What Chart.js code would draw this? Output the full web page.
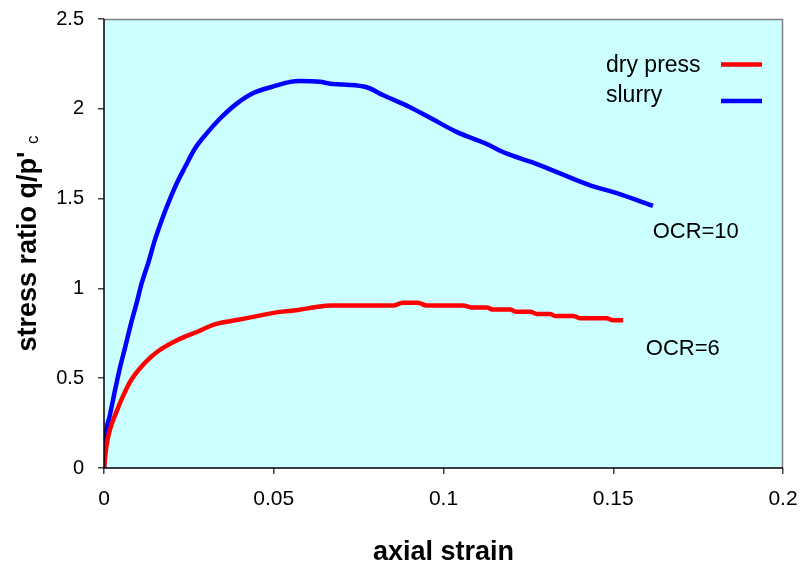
<!DOCTYPE html>
<html>
<head>
<meta charset="utf-8">
<script src="https://cdn.jsdelivr.net/npm/chart.js@4.4.1/dist/chart.umd.min.js"></script>
<style>
html,body{margin:0;padding:0;background:#fff;}
#wrap{width:801px;height:567px;}
</style>
</head>
<body>
<div id="wrap"><canvas id="c" width="801" height="567"></canvas></div>
<script>
// ---- data ----
const seriesNames = ["dry press", "slurry"];
const dryStrain = [0, 0.0007, 0.0017, 0.0036, 0.0056, 0.008, 0.012, 0.0159, 0.0218, 0.0277, 0.0326, 0.0395, 0.0454, 0.0512, 0.0571, 0.062, 0.0669, 0.0852, 0.088, 0.0925, 0.095, 0.1057, 0.1088, 0.1128, 0.1146, 0.1196, 0.1216, 0.1255, 0.1275, 0.1314, 0.1328, 0.1382, 0.1402, 0.148, 0.15, 0.1529];
const dryRatio = [0, 0.12, 0.21, 0.31, 0.40, 0.49, 0.585, 0.65, 0.714, 0.76, 0.80, 0.825, 0.847, 0.868, 0.88, 0.895, 0.905, 0.905, 0.92, 0.92, 0.905, 0.905, 0.893, 0.893, 0.882, 0.882, 0.87, 0.87, 0.858, 0.858, 0.847, 0.847, 0.834, 0.834, 0.823, 0.823];
const slurryStrain = [0, 0.0004, 0.0017, 0.0031, 0.0046, 0.0062, 0.0079, 0.0096, 0.0111, 0.0130, 0.0150, 0.0170, 0.0189, 0.0214, 0.0239, 0.0268, 0.0302, 0.0342, 0.0391, 0.044, 0.0509, 0.0548, 0.0577, 0.0636, 0.0666, 0.0705, 0.0774, 0.0823, 0.090, 0.097, 0.104, 0.112, 0.1187, 0.1264, 0.1343, 0.143, 0.151, 0.1617];
const slurryRatio = [0, 0.16, 0.29, 0.42, 0.55, 0.67, 0.80, 0.918, 1.029, 1.14, 1.27, 1.38, 1.473, 1.584, 1.677, 1.779, 1.862, 1.946, 2.029, 2.088, 2.13, 2.15, 2.155, 2.15, 2.14, 2.135, 2.12, 2.075, 2.01, 1.94, 1.87, 1.81, 1.75, 1.70, 1.64, 1.575, 1.53, 1.46];
const xTickLabels = ["0", "0.05", "0.1", "0.15", "0.2"];
const yTickLabels = ["0", "0.5", "1", "1.5", "2", "2.5"];
const curveLabels = ["OCR=6", "OCR=10"];
const curveLabelX = [0.1596, 0.1616];
const curveLabelY = [0.63, 1.28];
const xTitle = "axial strain";
const yTitle = "stress ratio q/p'";
const yTitleSub = "c";

const FONT = "'Liberation Sans', Arial, sans-serif";
const toPts = (xs, ys) => xs.map((x, i) => ({x: x, y: ys[i]}));

const decorPlugin = {
  id: 'decor',
  beforeDraw(chart) {
    const {ctx, chartArea: a} = chart;
    ctx.save();
    ctx.fillStyle = '#CCFFFF';
    ctx.fillRect(a.left, a.top, a.right - a.left, a.bottom - a.top);
    ctx.restore();
  },
  afterDraw(chart) {
    const {ctx, chartArea: a, scales} = chart;
    ctx.save();
    // top & right frame
    ctx.strokeStyle = '#808080';
    ctx.lineWidth = 1.5;
    ctx.beginPath();
    ctx.moveTo(a.left, a.top + 0.5);
    ctx.lineTo(a.right - 0.5, a.top + 0.5);
    ctx.lineTo(a.right - 0.5, a.bottom);
    ctx.stroke();
    // left & bottom axis lines
    ctx.strokeStyle = '#000';
    ctx.lineWidth = 1.5;
    ctx.beginPath();
    ctx.moveTo(a.left, a.top);
    ctx.lineTo(a.left, a.bottom);
    ctx.lineTo(a.right, a.bottom);
    ctx.stroke();

    // legend
    ctx.fillStyle = '#000';
    ctx.font = '23px ' + FONT;
    ctx.textBaseline = 'alphabetic';
    ctx.textAlign = 'left';
    const cols = ['#FF0000', '#0000FF'];
    const tY = [72, 102];
    const lY = [64.5, 101];
    for (let i = 0; i < 2; i++) {
      ctx.fillText(seriesNames[i], 606, tY[i]);
      ctx.strokeStyle = cols[i];
      ctx.lineWidth = 4.5;
      ctx.beginPath();
      ctx.moveTo(721, lY[i]);
      ctx.lineTo(762, lY[i]);
      ctx.stroke();
    }

    // curve labels
    ctx.font = '22px ' + FONT;
    for (let i = 0; i < curveLabels.length; i++) {
      ctx.fillText(curveLabels[i], scales.x.getPixelForValue(curveLabelX[i]), scales.y.getPixelForValue(curveLabelY[i]));
    }

    // x title
    ctx.font = 'bold 27px ' + FONT;
    ctx.textAlign = 'center';
    ctx.fillText(xTitle, (a.left + a.right) / 2, 560);

    // y title with subscript
    ctx.translate(36, (a.top + a.bottom) / 2);
    ctx.rotate(-Math.PI / 2);
    ctx.font = 'bold 27px ' + FONT;
    const w1 = ctx.measureText(yTitle + ' ').width;
    ctx.font = '17px ' + FONT;
    const w2 = ctx.measureText(yTitleSub).width;
    const start = -(w1 + w2) / 2;
    ctx.textAlign = 'left';
    ctx.font = 'bold 27px ' + FONT;
    ctx.fillText(yTitle + ' ', start, 0);
    ctx.font = '17px ' + FONT;
    ctx.fillText(yTitleSub, start + w1, 2);
    ctx.restore();
  }
};

function zeroPad(s) { s.paddingTop = 0; s.paddingBottom = 0; s.paddingLeft = 0; s.paddingRight = 0; }

new Chart(document.getElementById('c'), {
  type: 'scatter',
  data: {
    datasets: [
      {label: seriesNames[0], data: toPts(dryStrain, dryRatio), showLine: true, borderColor: '#FF0000', backgroundColor: '#FF0000', borderWidth: 4.5, pointRadius: 0, cubicInterpolationMode: 'monotone'},
      {label: seriesNames[1], data: toPts(slurryStrain, slurryRatio), showLine: true, borderColor: '#0000FF', backgroundColor: '#0000FF', borderWidth: 4.5, pointRadius: 0, cubicInterpolationMode: 'monotone'}
    ]
  },
  options: {
    responsive: false,
    animation: false,
    devicePixelRatio: 1,
    layout: {padding: {top: 19, right: 18, left: 0, bottom: 0}},
    plugins: {legend: {display: false}, tooltip: {enabled: false}},
    scales: {
      x: {
        type: 'linear', min: 0, max: 0.2,
        afterFit(s) { s.height = 99; zeroPad(s); },
        afterBuildTicks(s) { s.ticks = xTickLabels.map(t => ({value: parseFloat(t)})); },
        ticks: {callback: (v, i) => xTickLabels[i], color: '#000', font: {family: FONT, size: 21}, padding: 13, maxRotation: 0},
        grid: {drawOnChartArea: false, tickLength: 6, color: '#444', lineWidth: 1.5},
        border: {display: false}
      },
      y: {
        type: 'linear', min: 0, max: 2.5,
        afterFit(s) { s.width = 104; zeroPad(s); },
        afterBuildTicks(s) { s.ticks = yTickLabels.map(t => ({value: parseFloat(t)})); },
        ticks: {callback: (v, i) => yTickLabels[i], color: '#000', font: {family: FONT, size: 20}, padding: 14},
        grid: {drawOnChartArea: false, tickLength: 6, color: '#444', lineWidth: 1.5},
        border: {display: false}
      }
    }
  },
  plugins: [decorPlugin]
});
</script>
</body>
</html>
